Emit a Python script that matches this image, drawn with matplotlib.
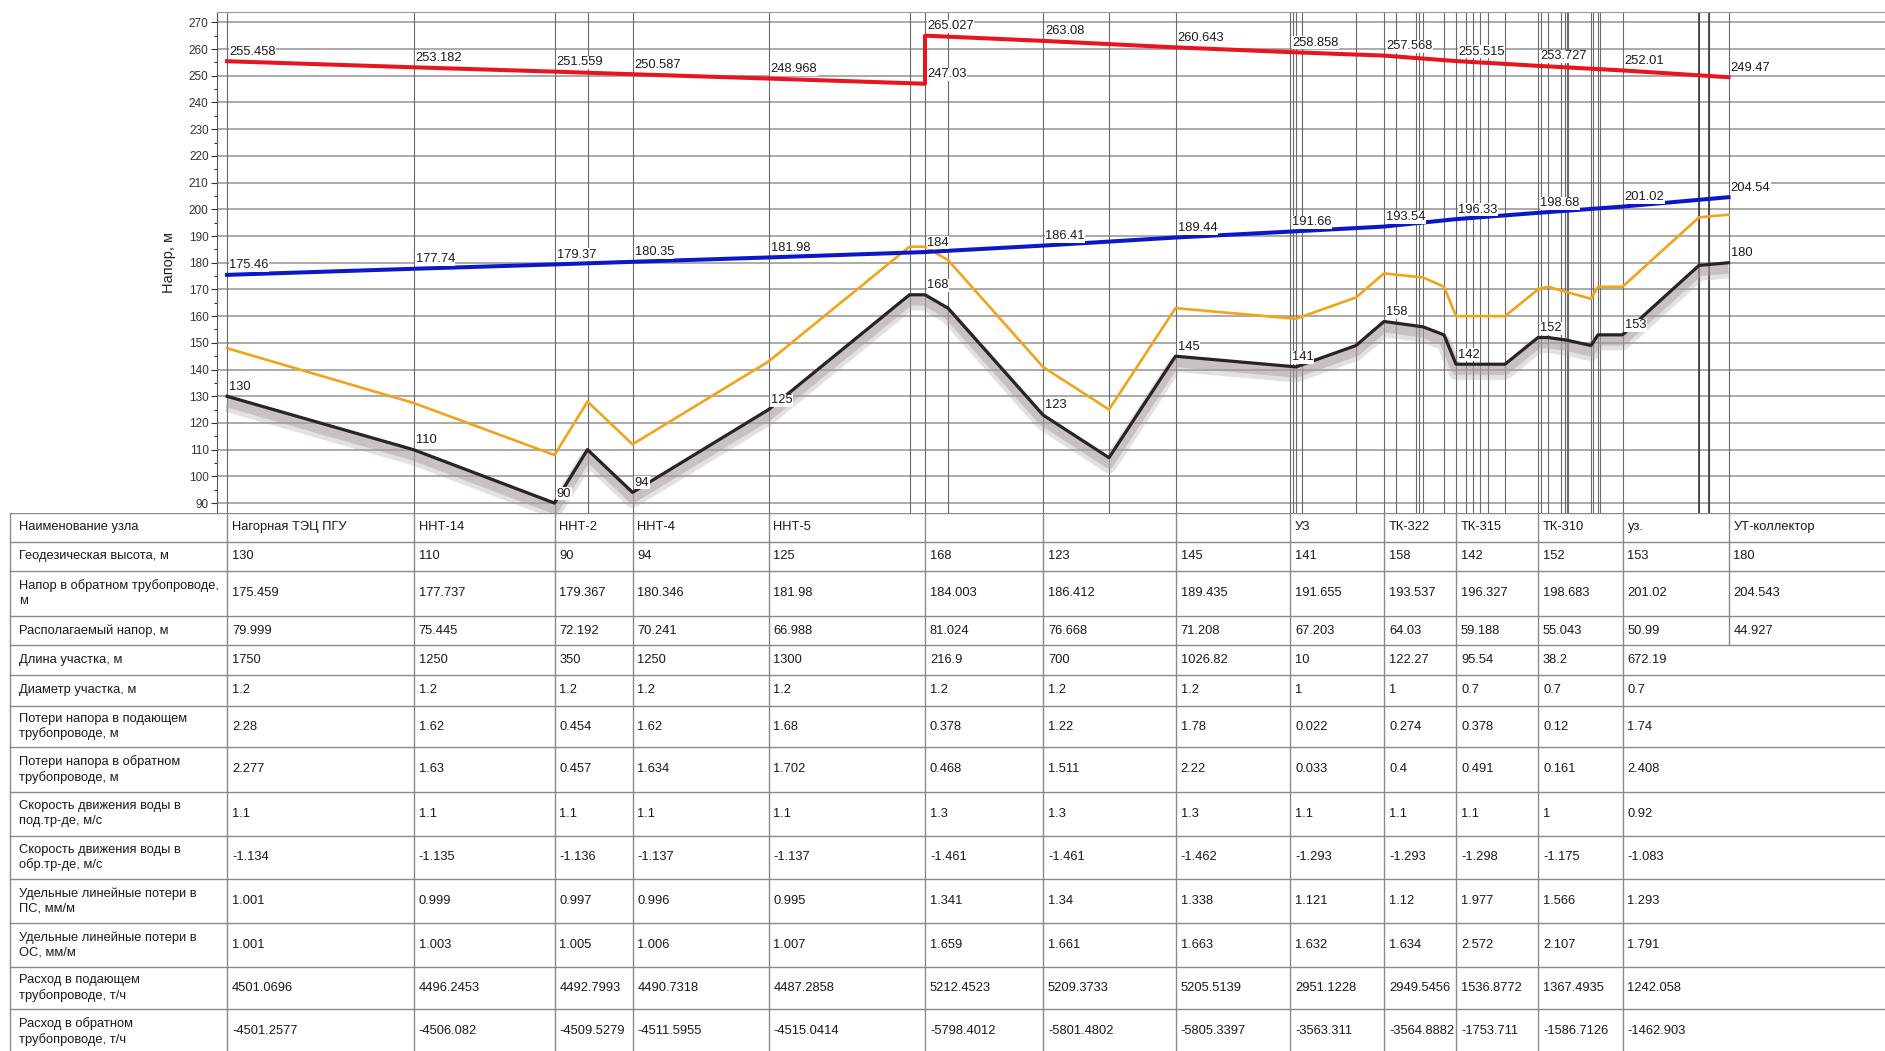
import matplotlib
matplotlib.use('Agg')
import matplotlib.pyplot as plt
from matplotlib import font_manager
from matplotlib.transforms import ScaledTranslation
from matplotlib.ticker import MultipleLocator

_names = {f.name for f in font_manager.fontManager.ttflist}
if 'Liberation Sans Narrow' in _names:
    NARROW = ['Liberation Sans Narrow', 'DejaVu Sans']
    NSIZE = 11.3
else:
    NARROW = ['Liberation Sans', 'DejaVu Sans']
    NSIZE = 9.3
plt.rcParams['font.family'] = ['Liberation Sans', 'DejaVu Sans']

# ------------------------------------------------------------------ data
node_names = ["Нагорная ТЭЦ ПГУ", "ННТ-14", "ННТ-2", "ННТ-4", "ННТ-5", "", "", "",
              "УЗ", "ТК-322", "ТК-315", "ТК-310", "уз.", "УТ-коллектор"]
# station (horizontal coordinate) of each node along the profile
node_station = [227, 413.5, 554.5, 632.5, 768.5, 925, 1043, 1175.5,
                1290, 1384, 1456, 1538, 1622.5, 1728.5]
geodetic = [130, 110, 90, 94, 125, 168, 123, 145, 141, 158, 142, 152, 153, 180]
supply_head = [255.458, 253.182, 251.559, 250.587, 248.968, 265.027, 263.08,
               260.643, 258.858, 257.568, 255.515, 253.727, 252.01, 249.47]
supply_head_before_pump = 247.03          # node 6, upstream of the pump station
return_head = [175.459, 177.737, 179.367, 180.346, 181.98, 184.003, 186.412,
               189.435, 191.655, 193.537, 196.327, 198.683, 201.02, 204.543]
available_head = [79.999, 75.445, 72.192, 70.241, 66.988, 81.024, 76.668,
                  71.208, 67.203, 64.03, 59.188, 55.043, 50.99, 44.927]
length = [1750, 1250, 350, 1250, 1300, 216.9, 700, 1026.82, 10, 122.27,
          95.54, 38.2, 672.19, None]
diameter = [1.2, 1.2, 1.2, 1.2, 1.2, 1.2, 1.2, 1.2, 1, 1, 0.7, 0.7, 0.7, None]
loss_supply = [2.28, 1.62, 0.454, 1.62, 1.68, 0.378, 1.22, 1.78, 0.022, 0.274,
               0.378, 0.12, 1.74, None]
loss_return = [2.277, 1.63, 0.457, 1.634, 1.702, 0.468, 1.511, 2.22, 0.033,
               0.4, 0.491, 0.161, 2.408, None]
speed_supply = [1.1, 1.1, 1.1, 1.1, 1.1, 1.3, 1.3, 1.3, 1.1, 1.1, 1.1, 1, 0.92, None]
speed_return = [-1.134, -1.135, -1.136, -1.137, -1.137, -1.461, -1.461, -1.462,
                -1.293, -1.293, -1.298, -1.175, -1.083, None]
spec_loss_supply = [1.001, 0.999, 0.997, 0.996, 0.995, 1.341, 1.34, 1.338,
                    1.121, 1.12, 1.977, 1.566, 1.293, None]
spec_loss_return = [1.001, 1.003, 1.005, 1.006, 1.007, 1.659, 1.661, 1.663,
                    1.632, 1.634, 2.572, 2.107, 1.791, None]
flow_supply = [4501.0696, 4496.2453, 4492.7993, 4490.7318, 4487.2858, 5212.4523,
               5209.3733, 5205.5139, 2951.1228, 2949.5456, 1536.8772, 1367.4935,
               1242.058, None]
flow_return = [-4501.2577, -4506.082, -4509.5279, -4511.5955, -4515.0414,
               -5798.4012, -5801.4802, -5805.3397, -3563.311, -3564.8882,
               -1753.711, -1586.7126, -1462.903, None]

# detailed terrain profile (black) and static-pressure line (orange)
profile_station = [227, 413.5, 554.5, 587.5, 632.5, 768.5, 909.5, 925, 948, 1043,
                   1109, 1175.5, 1296, 1356, 1384, 1423, 1444, 1456, 1505, 1538,
                   1548, 1567, 1591, 1598, 1622.5, 1699, 1728.5]
profile_ground = [130, 110, 90, 110, 94, 125, 168, 168, 163, 123, 107, 145, 141,
                  149, 158, 156, 153, 142, 142, 152, 152, 151, 149, 153, 153, 179, 180]
profile_static = [148, 127.5, 108, 128, 112, 143, 186, 186, 181, 141, 125, 163,
                  159, 167, 176, 174.5, 171, 160, 160, 170, 171, 169, 166.5, 171,
                  171, 197, 198]
# additional section marks (thin verticals)
extra_marks = [1293.3, 1301.8, 1395.5, 1416, 1419, 1466, 1473, 1480, 1487.5,
               1541, 1561, 1565, 1568, 1593, 1600, 1709]

row_titles = ["Наименование узла", "Геодезическая высота, м",
              "Напор в обратном трубопроводе,\nм", "Располагаемый напор, м",
              "Длина участка, м", "Диаметр участка, м",
              "Потери напора в подающем\nтрубопроводе, м",
              "Потери напора в обратном\nтрубопроводе, м",
              "Скорость движения воды в\nпод.тр-де, м/с",
              "Скорость движения воды в\nобр.тр-де, м/с",
              "Удельные линейные потери в\nПС, мм/м",
              "Удельные линейные потери в\nОС, мм/м",
              "Расход в подающем\nтрубопроводе, т/ч",
              "Расход в обратном\nтрубопроводе, т/ч"]
row_values = [node_names, geodetic, return_head, available_head, length, diameter,
              loss_supply, loss_return, speed_supply, speed_return,
              spec_loss_supply, spec_loss_return, flow_supply, flow_return]

# ------------------------------------------------------------------ layout
W, H = 1885, 1051
AX_LEFT, AX_TOP, AX_BOTTOM = 217, 11.7, 512.7
TABLE_LEFT = 10
row_edges = [512.7, 541.7, 570.7, 616, 645, 675, 705.7, 747.3, 791.7, 835.7,
             879.3, 922.7, 966.7, 1009.3, 1053]

fig = plt.figure(figsize=(W / 100, H / 100), dpi=100)
ax = fig.add_axes([AX_LEFT / W, 1 - AX_BOTTOM / H, 1 - AX_LEFT / W,
                   (AX_BOTTOM - AX_TOP) / H])
ax.set_xlim(AX_LEFT, W)
ax.set_ylim(86.4, 274)

# grid
ax.yaxis.set_major_locator(MultipleLocator(10))
ax.yaxis.set_minor_locator(MultipleLocator(5))
ax.set_yticks(range(90, 271, 10))
ax.grid(axis='y', which='major', color='#a4a4a4', lw=1.3, zorder=0)
ax.set_axisbelow(True)
marks = sorted(set(profile_station + node_station + extra_marks))
for xm in marks:
    ax.axvline(xm, color='#6a6a6a', lw=0.8, zorder=1)
for xm in (1699, 1709):
    ax.axvline(xm, color='#444444', lw=1.3, zorder=1)

ax.set_xticks([])
ax.tick_params(axis='y', which='major', length=4, width=0.8, pad=2,
               labelsize=8.5, colors='#333333')
ax.tick_params(axis='y', which='minor', length=2.5, width=0.8, colors='#333333')
for s in ('right', 'bottom'):
    ax.spines[s].set_visible(False)
ax.spines['top'].set_color('#9a9a9a')
ax.spines['left'].set_color('#555555')
ax.set_ylabel('Напор, м', fontsize=10.5, color='#222222')
ax.yaxis.set_label_coords((176 - AX_LEFT) / (W - AX_LEFT), 0.5)

# terrain shadow
for lw, a, dy in ((11, 0.30, -8), (7, 0.45, -6)):
    ax.plot(profile_station, profile_ground, color='#a89a9d', lw=lw, alpha=a,
            solid_joinstyle='round', solid_capstyle='butt', zorder=2,
            transform=ax.transData + ScaledTranslation(0, dy / 100, fig.dpi_scale_trans))
ax.plot(profile_station, profile_static, color='#f2a31b', lw=1.9, zorder=3)
ax.plot(profile_station, profile_ground, color='#2b2224', lw=2.3, zorder=4)
ax.plot(node_station, return_head, color='#0c18c8', lw=2.9, zorder=5)
red_x = node_station[:6] + node_station[5:]
red_y = supply_head[:5] + [supply_head_before_pump] + supply_head[5:]
ax.plot(red_x, red_y, color='#e8141e', lw=2.9, zorder=5)


def fmt(v):
    return '' if v is None else (v if isinstance(v, str) else f"{v:.10g}")


def label(x, v, text):
    ax.annotate(text, (x, v), xytext=(1.5, 2.5), textcoords='offset points',
                ha='left', va='bottom', fontsize=NSIZE, family=NARROW,
                color='#1a1a1a', zorder=7,
                bbox=dict(fc='white', ec='none', pad=0.4))


for x, v in zip(node_station, supply_head):
    label(x, v, fmt(v))
label(node_station[5], supply_head_before_pump, fmt(supply_head_before_pump))
for x, v in zip(node_station, return_head):
    label(x, v, f"{round(v, 2):g}")
for x, v in zip(node_station, geodetic):
    label(x, v, fmt(v))

# ------------------------------------------------------------------ table
tax = fig.add_axes([0, 0, 1, (H - AX_BOTTOM) / H])
tax.set_xlim(0, W)
tax.set_ylim(H, AX_BOTTOM)
tax.axis('off')
gc = '#8a8a8a'
for yb in row_edges[:-1]:
    tax.plot([TABLE_LEFT, W], [yb, yb], color=gc, lw=1.0)
tax.plot([TABLE_LEFT, TABLE_LEFT], [row_edges[0], H], color=gc, lw=1.0)
for i, x in enumerate(node_station):
    bottom = row_edges[4] if i == len(node_station) - 1 else H
    tax.plot([x, x], [row_edges[0], bottom], color=gc, lw=1.0)

for r, (title, vals) in enumerate(zip(row_titles, row_values)):
    yc = (row_edges[r] + row_edges[r + 1]) / 2
    tax.text(TABLE_LEFT + 9, yc, title, ha='left', va='center', fontsize=NSIZE,
             family=NARROW, color='#1a1a1a', linespacing=1.3)
    for x, v in zip(node_station, vals):
        tax.text(x + 5, yc, fmt(v), ha='left', va='center', fontsize=NSIZE,
                 family=NARROW, color='#1a1a1a')

fig.savefig('out.png', dpi=100, facecolor='white')
